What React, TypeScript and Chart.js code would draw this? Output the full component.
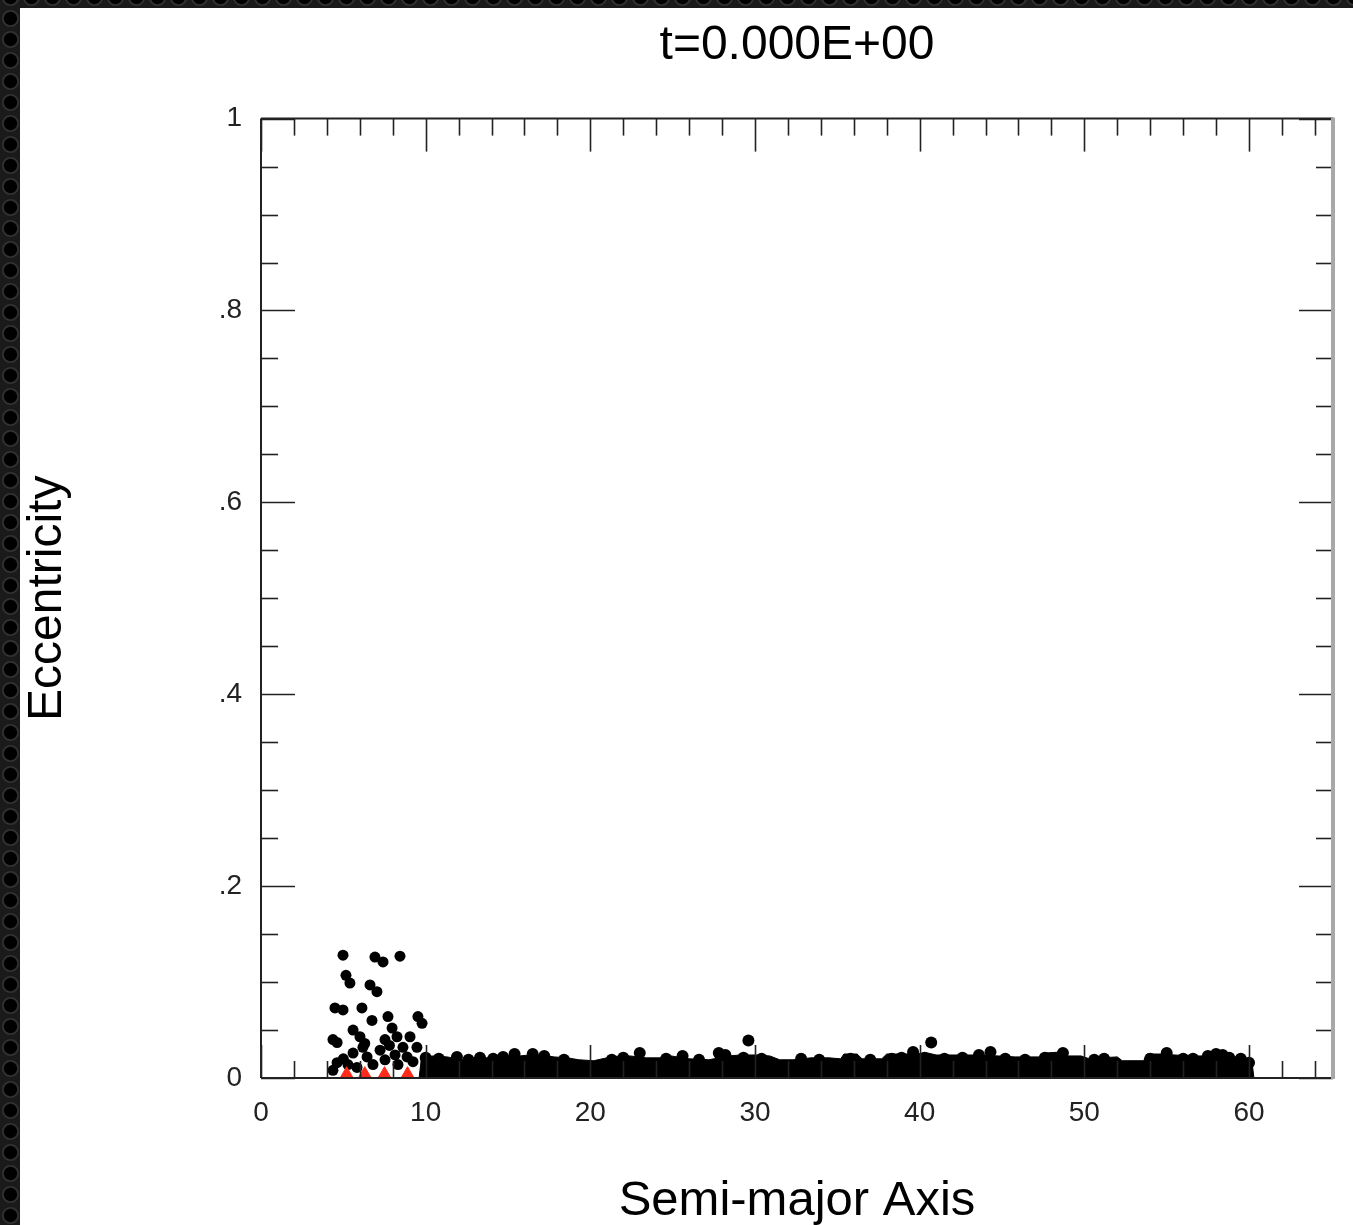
import React, { useEffect, useRef } from "react";
import { Chart, registerables } from "chart.js";

Chart.register(...registerables);

const FONT = "'Liberation Sans', Arial, Helvetica, sans-serif";

const titleText = "t=0.000E+00";
const xTitle = "Semi-major Axis";
const yTitle = "Eccentricity";

const xTickValues = [0, 10, 20, 30, 40, 50, 60];
const xTickLabels = ["0", "10", "20", "30", "40", "50", "60"];
const yTickValues = [0, 0.2, 0.4, 0.6, 0.8, 1];
const yTickLabels = ["0", ".2", ".4", ".6", ".8", "1"];

// scattered (excited) bodies in the inner region
const innerA = [4.98, 6.92, 7.41, 8.44, 5.16, 5.4, 6.62, 7.04, 4.49, 4.98, 6.13, 6.74, 7.71, 9.53, 9.78, 5.59, 6.01, 7.96, 4.37, 4.62, 6.19, 7.53, 8.26, 9.05, 8.62, 7.23, 5.59, 6.44, 8.14, 9.47, 4.62, 5.28, 6.8, 8.32, 9.23, 4.37, 5.83, 7.53, 8.87, 6.3, 7.8, 5.0];
const innerE = [0.128, 0.126, 0.121, 0.127, 0.107, 0.099, 0.097, 0.09, 0.073, 0.071, 0.073, 0.06, 0.064, 0.064, 0.057, 0.05, 0.043, 0.052, 0.04, 0.037, 0.032, 0.04, 0.043, 0.043, 0.032, 0.029, 0.026, 0.022, 0.024, 0.032, 0.016, 0.014, 0.014, 0.014, 0.017, 0.008, 0.011, 0.019, 0.022, 0.036, 0.034, 0.02];

// planets (red)
const planetA = [5.2, 6.3, 7.5, 8.9];
const planetE = [0.004, 0.004, 0.004, 0.004];

// upper edge of the dense planetesimal disk
const diskEdgeA = [9.6, 9.75, 10.5, 11.3, 12.3, 13.0, 13.8, 14.5, 15.7, 16.3, 17.0, 17.8, 18.6, 19.3, 20.2, 21.0, 21.8, 22.4, 23.4, 24.4, 24.9, 26.0, 27.2, 28.4, 29.1, 30.0, 30.9, 31.5, 32.3, 33.4, 34.5, 35.2, 35.4, 36.2, 36.5, 37.7, 38.0, 39.2, 40.5, 41.0, 43.2, 44.8, 45.8, 47.3, 47.6, 48.5, 49.0, 49.8, 50.3, 51.0, 52.0, 52.3, 53.6, 53.8, 54.6, 55.5, 56.4, 57.4, 58.7, 59.9, 60.2, 60.3];
const diskEdgeE = [0, 0.022, 0.023, 0.022, 0.019, 0.021, 0.021, 0.023, 0.023, 0.024, 0.024, 0.022, 0.021, 0.019, 0.018, 0.021, 0.023, 0.023, 0.021, 0.021, 0.023, 0.02, 0.019, 0.023, 0.024, 0.024, 0.023, 0.019, 0.019, 0.021, 0.021, 0.02, 0.025, 0.025, 0.02, 0.02, 0.025, 0.025, 0.026, 0.024, 0.024, 0.023, 0.022, 0.022, 0.026, 0.027, 0.023, 0.023, 0.02, 0.021, 0.022, 0.018, 0.018, 0.025, 0.025, 0.024, 0.023, 0.023, 0.023, 0.02, 0.014, 0];

// individual disk particles standing above the edge
const bumpA = [10.0, 10.8, 11.9, 12.6, 13.3, 14.1, 14.7, 15.4, 16.5, 17.2, 18.4, 21.3, 22.0, 23.0, 24.6, 25.6, 26.6, 27.8, 28.2, 29.3, 29.6, 30.4, 32.8, 33.9, 35.8, 37.0, 38.3, 38.9, 39.6, 40.3, 40.7, 41.5, 42.6, 43.6, 44.3, 45.2, 46.4, 47.6, 48.7, 50.6, 51.2, 54.0, 55.0, 56.0, 56.6, 57.5, 58.0, 58.4, 58.8, 59.5, 60.0];
const bumpE = [0.021, 0.02, 0.022, 0.019, 0.021, 0.02, 0.022, 0.025, 0.025, 0.023, 0.019, 0.019, 0.021, 0.026, 0.02, 0.023, 0.019, 0.026, 0.024, 0.021, 0.039, 0.02, 0.02, 0.019, 0.02, 0.019, 0.02, 0.021, 0.027, 0.021, 0.037, 0.02, 0.021, 0.024, 0.027, 0.02, 0.019, 0.021, 0.026, 0.019, 0.02, 0.02, 0.026, 0.02, 0.02, 0.023, 0.025, 0.024, 0.021, 0.02, 0.016];

const pts = (xs: number[], ys: number[]) => xs.map((x, i) => ({ x, y: ys[i] }));

const frameTicks = {
  id: "frameTicks",
  afterDatasetsDraw(chart: any) {
    const { ctx, chartArea } = chart;
    const { left, right, top, bottom } = chartArea;
    const xs = chart.scales.x;
    const ys = chart.scales.y;
    ctx.save();
    ctx.strokeStyle = "#222";
    ctx.lineWidth = 1.6;
    const seg = (x1: number, y1: number, x2: number, y2: number) => {
      ctx.beginPath();
      ctx.moveTo(x1, y1);
      ctx.lineTo(x2, y2);
      ctx.stroke();
    };
    for (let i = 0; i <= 32; i++) {
      const v = i * 2;
      if (v > xs.max) break;
      const px = Math.round(xs.getPixelForValue(v)) + 0.5;
      const len = v % 10 === 0 ? 33 : 17;
      seg(px, bottom, px, bottom - len);
      seg(px, top, px, top + len);
    }
    for (let i = 0; i <= 20; i++) {
      const v = i * 0.05;
      const py = Math.round(ys.getPixelForValue(v)) + 0.5;
      const len = i % 4 === 0 ? 34 : 17;
      seg(left, py, left + len, py);
      seg(right, py, right - len, py);
    }
    ctx.lineWidth = 2;
    ctx.strokeStyle = "#222";
    seg(left, top, right, top);
    seg(left, bottom, right, bottom);
    seg(left, top, left, bottom);
    ctx.strokeStyle = "#a8a8a8";
    ctx.lineWidth = 4;
    seg(right, top - 1, right, bottom + 1);
    ctx.restore();
  },
};

export default function App() {
  const ref = useRef<HTMLCanvasElement | null>(null);
  useEffect(() => {
    if (!ref.current) return;
    Chart.defaults.font.family = FONT;
    const chart = new Chart(ref.current, {
      type: "scatter",
      data: {
        datasets: [
          {
            type: "scatter",
            label: "planets",
            data: pts(planetA, planetE),
            pointStyle: "triangle",
            pointRadius: 7.5,
            backgroundColor: "#ff2a1a",
            borderColor: "#ff2a1a",
            borderWidth: 1,
            order: 0,
          },
          {
            type: "scatter",
            label: "inner",
            data: pts(innerA, innerE),
            pointRadius: 5.5,
            backgroundColor: "#000",
            borderColor: "#000",
            borderWidth: 0,
            order: 1,
          },
          {
            type: "scatter",
            label: "bumps",
            data: pts(bumpA, bumpE),
            pointRadius: 6,
            backgroundColor: "#000",
            borderColor: "#000",
            borderWidth: 0,
            order: 2,
          },
          {
            type: "line",
            label: "disk",
            data: pts(diskEdgeA, diskEdgeE),
            fill: "origin",
            backgroundColor: "#000",
            borderColor: "#000",
            borderWidth: 1,
            pointRadius: 0,
            tension: 0,
            order: 3,
          } as any,
        ],
      },
      options: {
        animation: false,
        responsive: false,
        events: [],
        layout: { padding: { left: 0, right: 20, top: 0, bottom: 0 } },
        plugins: {
          legend: { display: false },
          tooltip: { enabled: false },
          title: {
            display: true,
            text: titleText,
            fullSize: false,
            color: "#000",
            font: { size: 48, weight: "normal", family: FONT },
            padding: { top: 9, bottom: 44 },
          },
        },
        scales: {
          x: {
            type: "linear",
            min: 0,
            max: 65.1,
            grid: { display: false, drawTicks: false },
            border: { display: false },
            afterBuildTicks: (s: any) => {
              s.ticks = xTickValues.map((v) => ({ value: v }));
            },
            afterFit: (s: any) => {
              s.height = 147;
            },
            ticks: {
              autoSkip: false,
              maxRotation: 0,
              padding: 18,
              color: "#222",
              font: { size: 28, family: FONT },
              callback: (_v: any, i: number) => xTickLabels[i],
            },
            title: {
              display: true,
              text: xTitle,
              color: "#000",
              font: { size: 49, family: FONT },
              padding: { top: 0, bottom: -6 },
            },
          },
          y: {
            type: "linear",
            min: 0,
            max: 1,
            grid: { display: false, drawTicks: false },
            border: { display: false },
            afterBuildTicks: (s: any) => {
              s.ticks = yTickValues.map((v) => ({ value: v }));
            },
            afterFit: (s: any) => {
              s.width = 241;
            },
            ticks: {
              autoSkip: false,
              padding: 19,
              color: "#222",
              font: { size: 28, family: FONT },
              callback: (_v: any, i: number) => yTickLabels[i],
            },
            title: {
              display: true,
              text: yTitle,
              color: "#000",
              font: { size: 48, family: FONT },
              padding: { top: -1, bottom: 0 },
            },
          },
        },
      },
      plugins: [frameTicks],
    } as any);
    return () => chart.destroy();
  }, []);

  return (
    <div
      style={{
        position: "relative",
        width: 1353,
        height: 1225,
        overflow: "hidden",
        backgroundColor: "#1a1a1a",
        backgroundImage:
          "radial-gradient(circle at center, #000 0px, #000 6px, #3a3a3a 7.5px, #1a1a1a 9px)",
        backgroundSize: "21px 21px",
        backgroundPosition: "0px -13px",
      }}
    >
      <style>{`body{margin:0;overflow:hidden;}`}</style>
      <div
        style={{
          position: "absolute",
          left: 20,
          top: 8,
          width: 1333,
          height: 1217,
          background: "#fff",
        }}
      >
        <canvas ref={ref} width={1333} height={1217} style={{ display: "block" }} />
      </div>
    </div>
  );
}
